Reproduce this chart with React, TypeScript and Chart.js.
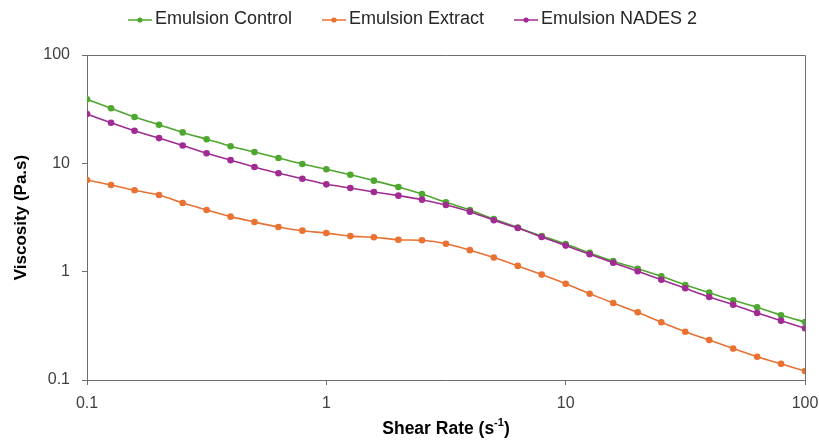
import React, { useEffect, useRef } from "react";
import { Chart, registerables } from "chart.js";

Chart.register(...registerables);

// Shear rate sweep, 10 points per decade (s^-1)
const shearRate = [
  0.1, 0.126, 0.158, 0.2, 0.251, 0.316, 0.398, 0.501, 0.631, 0.794,
  1, 1.26, 1.58, 2, 2.51, 3.16, 3.98, 5.01, 6.31, 7.94,
  10, 12.6, 15.8, 20, 25.1, 31.6, 39.8, 50.1, 63.1, 79.4, 100,
];

// Viscosity (Pa.s)
const emulsionControl = [
  39.0, 32.2, 26.8, 22.7, 19.3, 16.7, 14.4, 12.7, 11.2, 9.86,
  8.81, 7.85, 6.92, 6.05, 5.21, 4.37, 3.71, 3.06, 2.55, 2.13,
  1.8, 1.49, 1.25, 1.065, 0.906, 0.753, 0.64, 0.544, 0.469, 0.396, 0.343,
];
const emulsionExtract = [
  7.02, 6.31, 5.64, 5.1, 4.3, 3.71, 3.22, 2.87, 2.58, 2.39,
  2.27, 2.13, 2.08, 1.97, 1.95, 1.81, 1.58, 1.35, 1.13, 0.94,
  0.774, 0.626, 0.514, 0.422, 0.341, 0.279, 0.234, 0.195, 0.164, 0.141, 0.121,
];
const emulsionNades2 = [
  28.5, 23.7, 20.0, 17.1, 14.6, 12.4, 10.7, 9.25, 8.09, 7.21,
  6.4, 5.92, 5.44, 5.03, 4.62, 4.12, 3.58, 2.98, 2.53, 2.09,
  1.74, 1.45, 1.21, 1.01, 0.843, 0.702, 0.584, 0.496, 0.415, 0.353, 0.3,
];

const seriesNames = ["Emulsion Control", "Emulsion Extract", "Emulsion NADES 2"];
const seriesColors = ["#4EA72E", "#E97132", "#A02B93"];
const decadeTicks = [0.1, 1, 10, 100];

const xTitleMain = "Shear Rate (s";
const xTitleSup = "-1";
const xTitleEnd = ")";
const yTitle = "Viscosity (Pa.s)";

const AXIS_COLOR = "#6e6e6e";
const FONT = "'Liberation Sans', Arial, sans-serif";

// Plot-area frame, top legend (line + dot markers) and the x title with a superscript
const decorations = {
  id: "decorations",
  beforeDatasetsDraw(chart: any) {
    const { ctx, chartArea: a } = chart;
    ctx.save();
    ctx.strokeStyle = AXIS_COLOR;
    ctx.lineWidth = 1;
    ctx.beginPath();
    ctx.moveTo(a.left, a.top + 0.5);
    ctx.lineTo(a.right + 0.5, a.top + 0.5);
    ctx.lineTo(a.right + 0.5, a.bottom);
    ctx.stroke();
    ctx.restore();
  },
  afterDraw(chart: any) {
    const { ctx, chartArea: a } = chart;
    ctx.save();

    // legend
    ctx.font = `18px ${FONT}`;
    ctx.textBaseline = "middle";
    ctx.textAlign = "left";
    const lineLen = 24;
    const gapText = 3;
    const gapItem = 30;
    const widths = seriesNames.map((n) => lineLen + gapText + ctx.measureText(n).width);
    const total = widths.reduce((s, w) => s + w, 0) + gapItem * (widths.length - 1);
    let x = chart.width / 2 + 3 - total / 2;
    const y = 20;
    seriesNames.forEach((name, i) => {
      ctx.strokeStyle = seriesColors[i];
      ctx.fillStyle = seriesColors[i];
      ctx.lineWidth = 1.5;
      ctx.beginPath();
      ctx.moveTo(x, y);
      ctx.lineTo(x + lineLen, y);
      ctx.stroke();
      ctx.beginPath();
      ctx.arc(x + lineLen / 2, y, 2.6, 0, Math.PI * 2);
      ctx.fill();
      ctx.fillStyle = "#262626";
      ctx.fillText(name, x + lineLen + gapText, y - 1);
      x += widths[i] + gapItem;
    });

    // x-axis title
    const bold = `bold 17.5px ${FONT}`;
    const boldSmall = `bold 11px ${FONT}`;
    ctx.fillStyle = "#000";
    ctx.font = bold;
    const w1 = ctx.measureText(xTitleMain).width;
    const w3 = ctx.measureText(xTitleEnd).width;
    ctx.font = boldSmall;
    const w2 = ctx.measureText(xTitleSup).width;
    const tw = w1 + w2 + w3;
    let tx = (a.left + a.right) / 2 - tw / 2;
    const ty = chart.height - 14;
    ctx.textBaseline = "middle";
    ctx.font = bold;
    ctx.fillText(xTitleMain, tx, ty);
    tx += w1;
    ctx.font = boldSmall;
    ctx.fillText(xTitleSup, tx, ty - 6);
    tx += w2;
    ctx.font = bold;
    ctx.fillText(xTitleEnd, tx, ty);
    ctx.restore();
  },
};

export default function App() {
  const canvasRef = useRef<HTMLCanvasElement | null>(null);

  useEffect(() => {
    document.body.style.margin = "0";
    const canvas = canvasRef.current;
    if (!canvas) return;

    const series = [emulsionControl, emulsionExtract, emulsionNades2];
    const datasets = series.map((values, i) => ({
      label: seriesNames[i],
      data: shearRate.map((s, j) => ({ x: s, y: values[j] })),
      borderColor: seriesColors[i],
      backgroundColor: seriesColors[i],
      borderWidth: 1.6,
      pointRadius: 3.3,
      pointBorderWidth: 0,
      pointBackgroundColor: seriesColors[i],
      tension: 0.25,
      order: series.length - i,
    }));

    const tickFont = { family: FONT, size: 16 };

    const chart = new Chart(canvas, {
      type: "line",
      data: { datasets },
      plugins: [decorations],
      options: {
        responsive: false,
        animation: false,
        devicePixelRatio: 1,
        layout: { padding: { top: 55, right: 14, left: 0, bottom: 0 } },
        plugins: {
          legend: { display: false },
          tooltip: { enabled: false },
        },
        scales: {
          x: {
            type: "logarithmic",
            min: 0.1,
            max: 100,
            afterBuildTicks: (scale: any) => {
              scale.ticks = decadeTicks.map((v) => ({ value: v }));
            },
            afterFit: (scale: any) => {
              scale.height = 63;
              scale.paddingLeft = 0;
              scale.paddingRight = 0;
            },
            ticks: {
              color: "#404040",
              font: tickFont,
              padding: 9,
              maxRotation: 0,
              autoSkip: false,
              callback: (v: any) => String(v),
            },
            grid: {
              drawOnChartArea: false,
              drawTicks: true,
              tickLength: 5,
              color: AXIS_COLOR,
            },
            border: { display: true, color: AXIS_COLOR, width: 1 },
          },
          y: {
            type: "logarithmic",
            min: 0.1,
            max: 100,
            afterBuildTicks: (scale: any) => {
              scale.ticks = decadeTicks.map((v) => ({ value: v }));
            },
            afterFit: (scale: any) => {
              scale.width = 87;
            },
            ticks: {
              color: "#404040",
              font: tickFont,
              padding: 12,
              autoSkip: false,
              callback: (v: any) => String(v),
            },
            grid: {
              drawOnChartArea: false,
              drawTicks: true,
              tickLength: 5,
              color: AXIS_COLOR,
            },
            border: { display: true, color: AXIS_COLOR, width: 1 },
            title: {
              display: true,
              text: yTitle,
              color: "#000",
              font: { family: FONT, size: 17, weight: "bold" },
              padding: { top: 11, bottom: 0 },
            },
          },
        },
      },
    } as any);

    return () => chart.destroy();
  }, []);

  return (
    <div style={{ width: 819, height: 443 }}>
      <canvas ref={canvasRef} width={819} height={443} />
    </div>
  );
}
